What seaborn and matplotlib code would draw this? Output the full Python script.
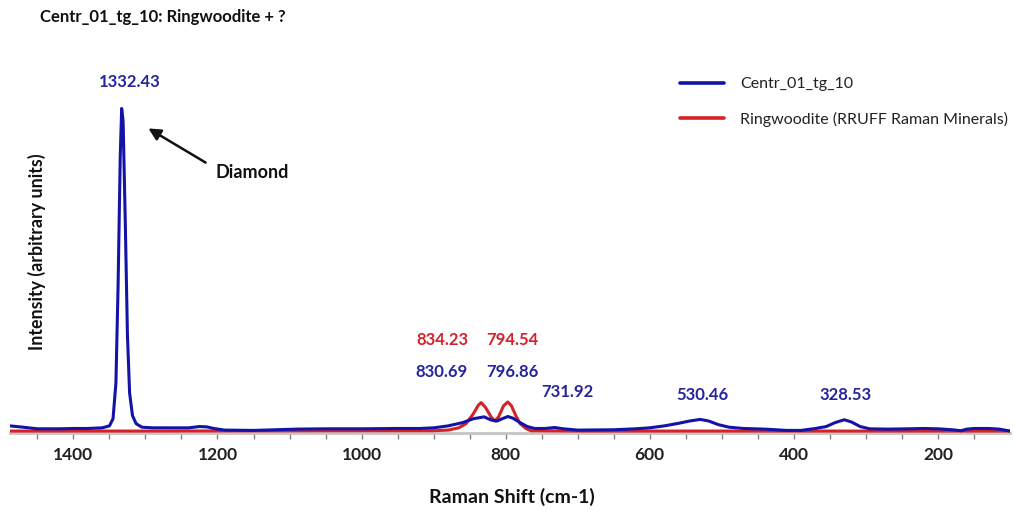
import matplotlib
matplotlib.use("Agg")
import matplotlib.pyplot as plt
import seaborn as sns
import pandas as pd

# ---- data ----
blue_shift = [1488, 1470, 1450, 1420, 1400, 1380, 1360, 1350, 1345, 1341, 1338, 1335, 1333, 1331,
              1328, 1325, 1322, 1318, 1313, 1305, 1290, 1260, 1240, 1225, 1215, 1205, 1190, 1150,
              1120, 1090, 1050, 1000, 950, 920, 900, 880, 860, 845, 830, 820, 812, 805, 797, 790,
              780, 770, 760, 745, 732, 720, 700, 650, 620, 600, 580, 560, 545, 530, 518, 505, 490,
              470, 440, 410, 390, 370, 355, 343, 330, 320, 308, 295, 270, 240, 220, 200, 180, 168,
              160, 150, 130, 115, 100]
blue_int = [18, 14, 9, 9, 10, 10, 12, 18, 40, 150, 450, 850, 1000, 960,
            650, 300, 120, 50, 25, 14, 12, 12, 12, 16, 15, 10, 5, 4,
            6, 8, 9, 9, 10, 10, 12, 18, 28, 40, 46, 36, 33, 40, 47, 42,
            28, 16, 10, 10, 13, 9, 5, 6, 9, 12, 18, 26, 33, 38, 33, 22, 14,
            10, 8, 4, 4, 10, 16, 28, 37, 30, 16, 9, 8, 9, 10, 9, 6, 3,
            8, 10, 10, 8, 2]

red_shift = [1488, 1300, 1000, 900, 880, 865, 855, 845, 838, 834, 828, 820, 815, 810, 803, 797,
             792, 786, 780, 772, 765, 700, 100]
red_int = [2, 2, 3, 3, 5, 12, 25, 55, 82, 90, 75, 45, 33, 45, 80, 92,
           80, 50, 25, 10, 3, 2, 2]

series_names = ["Centr_01_tg_10", "Ringwoodite (RRUFF Raman Minerals)"]
x_ticks = [1400, 1200, 1000, 800, 600, 400, 200]

title = "Centr_01_tg_10: Ringwoodite + ?"
x_label = "Raman Shift (cm-1)"
y_label = "Intensity (arbitrary units)"

blue_labels = ["1332.43", "830.69", "796.86", "731.92", "530.46", "328.53"]
red_labels = ["834.23", "794.54"]

BLUE = "#1313a8"
RED = "#d42228"
TXT_BLUE = "#2424a0"

W, H = 1014, 513
sns.set_theme(style="white")
plt.rcParams["font.family"] = ["Lato", "DejaVu Sans"]

fig = plt.figure(figsize=(W / 100, H / 100), dpi=100)
ax = fig.add_axes([10 / W, (H - 433) / H, 1000 / W, 373 / H])

df_b = pd.DataFrame({"shift": blue_shift, "intensity": blue_int, "series": series_names[0]})
df_r = pd.DataFrame({"shift": red_shift, "intensity": red_int, "series": series_names[1]})

sns.lineplot(data=df_r, x="shift", y="intensity", color=RED, lw=2.2, ax=ax,
             label=series_names[1], sort=False, estimator=None, zorder=3)
sns.lineplot(data=df_b, x="shift", y="intensity", color=BLUE, lw=2.2, ax=ax,
             label=series_names[0], sort=False, estimator=None, zorder=4)

ax.set_xlim(1488, 100)
ax.set_ylim(-4, 1150)
ax.set_xticks(x_ticks)
ax.set_xticks(list(range(1450, 100, -50)), minor=True)
ax.set_yticks([])
for s in ["left", "top", "right"]:
    ax.spines[s].set_visible(False)
ax.spines["bottom"].set_color("#c4c4c4")
ax.spines["bottom"].set_linewidth(2)
ax.tick_params(axis="x", which="both", bottom=True, direction="out", color="#808080",
               length=4, width=1, pad=6, labelsize=12.5, labelcolor="#222222")
for lb in ax.get_xticklabels():
    lb.set_fontweight("bold")
ax.set_xlabel("")
ax.set_ylabel("")

# legend
h, l = ax.get_legend_handles_labels()
order = [l.index(series_names[0]), l.index(series_names[1])]
leg = ax.legend([h[i] for i in order], [l[i] for i in order], loc="upper left",
                bbox_to_anchor=(680 / W, (H - 77) / H), bbox_transform=fig.transFigure,
                frameon=False, borderpad=0, borderaxespad=0, handlelength=2.75,
                handletextpad=1.0, labelspacing=1.28, prop={"size": 11.5})
for line in leg.get_lines():
    line.set_linewidth(2.6)
for t in leg.get_texts():
    t.set_color("#222222")

def ftext(px, py, s, **kw):
    fig.text(px / W, (H - py) / H, s, **kw)

ftext(40, 17, title, fontsize=12.0, fontweight="bold", ha="left", va="center", color="#111111")
ftext(512, 497, x_label, fontsize=14, fontweight="bold", ha="center", va="center", color="#111111")
ftext(37, 252, y_label, fontsize=12.8, fontweight="bold", ha="center", va="center",
      rotation=90, color="#111111")

blue_pos = [(130, 82), (442, 372), (512, 372), (567, 392), (702, 395), (845, 395)]
for (px, py), s in zip(blue_pos, blue_labels):
    ftext(px, py, s, fontsize=12, fontweight="bold", ha="center", va="center", color=TXT_BLUE)
red_pos = [(442, 340), (512, 340)]
for (px, py), s in zip(red_pos, red_labels):
    ftext(px, py, s, fontsize=12, fontweight="bold", ha="center", va="center", color=RED)

ftext(252, 172, "Diamond", fontsize=13, fontweight="bold", ha="center", va="center", color="#111111")
ax.annotate("", xy=(146, H - 127), xycoords="figure pixels",
            xytext=(208, H - 164), textcoords="figure pixels",
            arrowprops=dict(arrowstyle="-|>,head_length=0.6,head_width=0.3", color="#111111", lw=1.8))

fig.savefig("out.png", dpi=100)
